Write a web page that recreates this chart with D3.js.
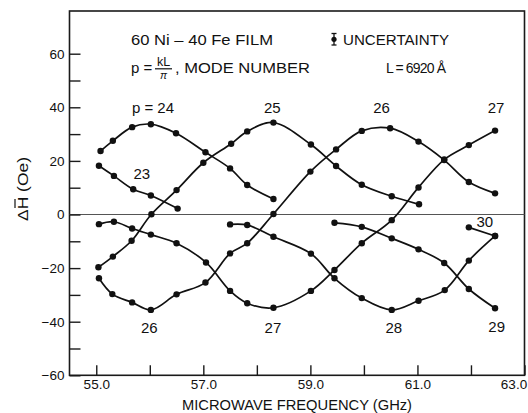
<!DOCTYPE html>
<html>
<head>
<meta charset="utf-8">
<script src="https://cdnjs.cloudflare.com/ajax/libs/d3/7.8.5/d3.min.js"></script>
<style>
    body { margin: 0; background: #fff; }
    text { font-family: "Liberation Sans", Arial, sans-serif; fill: #111; }
</style>
</head>
<body>
<div id="chart"></div>
<script>

// ************** data *************************************
// each mode: [frequency GHz, delta H (Oe)]
var mode23 = [[55.05,18.2],[55.33,14.4],[55.69,9.4],[56.02,7.1],[56.52,2.2]];
var mode24 = [[55.08,23.7],[55.31,27.5],[55.67,32.6],[56.02,33.7],[56.49,30.3],[57.04,23.2],[57.5,17.2],[57.82,11.0],[58.31,5.8]];
var mode25 = [[55.04,-19.7],[55.31,-15.7],[55.66,-9.8],[56.03,0.1],[56.5,9.1],[57.0,19.3],[57.52,26.4],[57.82,31.0],[58.31,34.3],[59.01,26.1],[59.48,18.1],[59.96,11.1],[60.52,6.8],[61.03,3.8]];
var mode26 = [[55.05,-23.8],[55.3,-29.7],[55.67,-32.8],[56.02,-35.6],[56.5,-29.8],[57.04,-25.4],[57.5,-14.5],[57.82,-10.7],[58.31,0.2],[59.0,16.0],[59.48,24.3],[59.96,31.2],[60.49,32.2],[61.02,27.2],[61.5,20.3],[61.96,12.1],[62.45,7.9]];
var mode27 = [[55.05,-3.6],[55.33,-2.7],[55.67,-5.2],[56.02,-7.5],[56.5,-10.7],[57.05,-17.9],[57.5,-28.5],[57.82,-33.1],[58.31,-34.8],[59.01,-28.5],[59.45,-20.7],[59.96,-10.7],[60.52,-2.1],[61.02,10.1],[61.5,20.5],[61.96,25.9],[62.45,31.3]];
var mode28 = [[57.5,-3.7],[57.82,-3.9],[58.31,-8.3],[59.01,-14.6],[59.45,-23.8],[59.96,-31.2],[60.52,-35.6],[61.02,-32.2],[61.51,-28.2],[61.96,-17.2],[62.45,-8.0]];
var mode29 = [[59.45,-3.1],[59.96,-4.6],[60.52,-8.9],[61.02,-13.0],[61.5,-18.1],[61.96,-27.8],[62.45,-35.0]];
var mode30 = [[61.96,-4.8],[62.45,-8.0]];

var modes = [mode23, mode24, mode25, mode26, mode27, mode28, mode29, mode30];

// mode number labels: [text, frequency, delta H]
var modeLabels = [
    ["p = 24", 56.06, 38], ["25", 58.29, 38], ["26", 60.33, 38], ["27", 62.47, 38],
    ["23", 55.85, 13.2],
    ["26", 55.99, -44.2], ["27", 58.3, -44.2], ["28", 60.56, -44.2], ["29", 62.48, -44],
    ["30", 62.26, -4.7]
];

var yTicks = [-60, -50, -40, -30, -20, -10, 0, 10, 20, 30, 40, 50, 60];
var xTicks = [55, 56, 57, 58, 59, 60, 61, 62, 63];

// ************** chart *****************
var width = 528, height = 413;

var svg = d3.select("#chart").append("svg")
    .attr("width", width)
    .attr("height", height);

var x = d3.scaleLinear().domain([54.5, 63]).range([69.5, 524.5]);
var y = d3.scaleLinear().domain([-60, 60]).range([375.3, 53.7]);
var frameTop = 11;

// frame
svg.append("rect")
    .attr("x", x(54.5)).attr("y", frameTop)
    .attr("width", x(63) - x(54.5))
    .attr("height", y(-60) - frameTop)
    .attr("fill", "none")
    .attr("stroke", "#1a1a1a")
    .attr("stroke-width", 1.6);

// zero line
svg.append("line")
    .attr("x1", x(54.5)).attr("x2", x(63))
    .attr("y1", y(0)).attr("y2", y(0))
    .attr("stroke", "#555")
    .attr("stroke-width", 1.2);

var yAxis = d3.axisLeft(y)
    .tickValues(yTicks)
    .tickSize(-11)
    .tickPadding(5)
    .tickFormat(function(d) { return d % 20 === 0 ? d3.format("d")(d) : ""; });

var gy = svg.append("g")
    .attr("transform", "translate(" + x(54.5) + ",0)")
    .call(yAxis);

var xAxis = d3.axisBottom(x)
    .tickValues(xTicks)
    .tickSize(-10)
    .tickPadding(4.5)
    .tickFormat(function(d) { return d % 2 === 1 ? d3.format(".1f")(d) : ""; });

var gx = svg.append("g")
    .attr("transform", "translate(0," + y(-60) + ")")
    .call(xAxis);

[gx, gy].forEach(function(g) {
    g.select(".domain").remove();
    g.selectAll(".tick line").attr("stroke", "#1a1a1a").attr("stroke-width", 1.4);
    g.selectAll(".tick text")
        .attr("fill", "#111")
        .style("font-family", "'Liberation Sans', Arial, sans-serif")
        .style("font-size", "13.5px");
});
// last label sits inside the page edge
gx.selectAll(".tick text").filter(function(d) { return d === 63; }).attr("dx", -11);

// curves
var line = d3.line()
    .x(function(d) { return x(d[0]); })
    .y(function(d) { return y(d[1]); })
    .curve(d3.curveCatmullRom.alpha(0.5));

svg.append("g").selectAll("path")
    .data(modes)
    .enter().append("path")
    .attr("d", line)
    .attr("fill", "none")
    .attr("stroke", "#111")
    .attr("stroke-width", 1.7);

modes.forEach(function(m) {
    svg.append("g").selectAll("circle")
        .data(m)
        .enter().append("circle")
        .attr("cx", function(d) { return x(d[0]); })
        .attr("cy", function(d) { return y(d[1]); })
        .attr("r", 3.2)
        .attr("fill", "#111");
});

svg.append("g").selectAll("text")
    .data(modeLabels)
    .enter().append("text")
    .attr("x", function(d) { return x(d[1]); })
    .attr("y", function(d) { return y(d[2]); })
    .attr("text-anchor", "middle")
    .style("font-size", "15px")
    .text(function(d) { return d[0]; });

// ************** header text *****************
svg.append("text")
    .attr("x", 131).attr("y", 44.5)
    .attr("textLength", 142).attr("lengthAdjust", "spacingAndGlyphs")
    .style("font-size", "15px")
    .text("60 Ni \u2013 40 Fe  FILM");

// uncertainty symbol
var ux = 334;
svg.append("line").attr("x1", ux).attr("x2", ux).attr("y1", 33.5).attr("y2", 45)
    .attr("stroke", "#111").attr("stroke-width", 1.3);
svg.append("line").attr("x1", ux - 2.5).attr("x2", ux + 2.5).attr("y1", 33.5).attr("y2", 33.5)
    .attr("stroke", "#111").attr("stroke-width", 1.3);
svg.append("line").attr("x1", ux - 2.5).attr("x2", ux + 2.5).attr("y1", 45).attr("y2", 45)
    .attr("stroke", "#111").attr("stroke-width", 1.3);
svg.append("circle").attr("cx", ux).attr("cy", 39.3).attr("r", 2.6).attr("fill", "#111");

svg.append("text")
    .attr("x", 343).attr("y", 44.5)
    .attr("textLength", 106).attr("lengthAdjust", "spacingAndGlyphs")
    .style("font-size", "15px")
    .text("UNCERTAINTY");

svg.append("text")
    .attr("x", 131).attr("y", 73.4)
    .style("font-size", "15px")
    .text("p =");

svg.append("text")
    .attr("x", 163.5).attr("y", 66)
    .attr("text-anchor", "middle")
    .style("font-size", "12.5px")
    .text("kL");

svg.append("line")
    .attr("x1", 155).attr("x2", 172).attr("y1", 68.8).attr("y2", 68.8)
    .attr("stroke", "#111").attr("stroke-width", 1.2);

svg.append("text")
    .attr("x", 163.5).attr("y", 79)
    .attr("text-anchor", "middle")
    .style("font-size", "10.5px")
    .style("font-style", "italic")
    .text("\u03c0");

svg.append("text")
    .attr("x", 175).attr("y", 73.4)
    .attr("textLength", 135).attr("lengthAdjust", "spacingAndGlyphs")
    .style("font-size", "15px")
    .text(", MODE NUMBER");

svg.append("text")
    .attr("x", 386).attr("y", 73.4)
    .attr("textLength", 60).attr("lengthAdjust", "spacing")
    .style("font-size", "14px")
    .text("L = 6920 \u00c5");

// axis titles
svg.append("text")
    .attr("x", 297).attr("y", 409.5)
    .attr("text-anchor", "middle")
    .attr("textLength", 230).attr("lengthAdjust", "spacingAndGlyphs")
    .style("font-size", "14.5px")
    .text("MICROWAVE FREQUENCY (GHz)");

var yTitle = svg.append("g")
    .attr("transform", "translate(28,189) rotate(-90)");

yTitle.append("text")
    .attr("x", 0).attr("y", 0)
    .attr("text-anchor", "middle")
    .attr("textLength", 64).attr("lengthAdjust", "spacingAndGlyphs")
    .style("font-size", "15px")
    .text("\u0394H (Oe)");

// bar over the H
yTitle.append("line")
    .attr("x1", -19).attr("x2", -10).attr("y1", -13).attr("y2", -13)
    .attr("stroke", "#111").attr("stroke-width", 1.2);

</script>
</body>
</html>
